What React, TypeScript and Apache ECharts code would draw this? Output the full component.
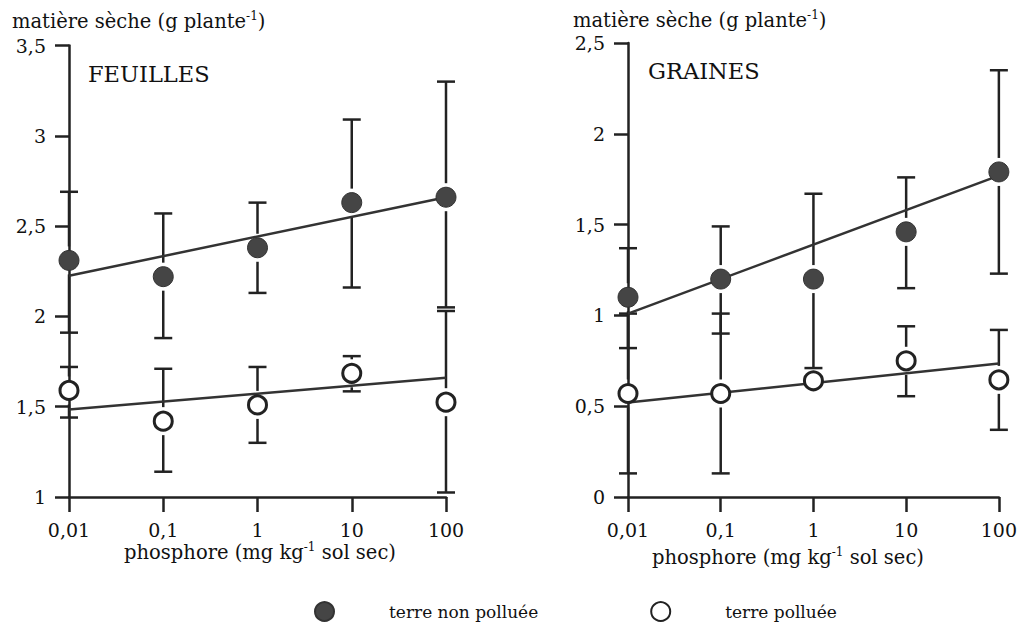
import React, { useEffect, useRef } from "react";
import * as echarts from "echarts";

const phosphore = [0.01, 0.1, 1, 10, 100];
const xTickLabels = ["0,01", "0,1", "1", "10", "100"];

// FEUILLES
const feuillesNP = [2.31, 2.22, 2.38, 2.63, 2.66];
const feuillesNPHigh = [2.69, 2.57, 2.63, 3.09, 3.3];
const feuillesNPLow = [1.91, 1.88, 2.13, 2.16, 2.05];
const feuillesP = [1.59, 1.42, 1.51, 1.685, 1.525];
const feuillesPHigh = [1.72, 1.71, 1.72, 1.78, 2.03];
const feuillesPLow = [1.44, 1.14, 1.3, 1.585, 1.025];
const feuillesNPFit = [2.225, 2.66];
const feuillesPFit = [1.485, 1.66];

// GRAINES
const grainesNP = [1.1, 1.2, 1.2, 1.46, 1.79];
const grainesNPHigh = [1.37, 1.49, 1.67, 1.76, 2.35];
const grainesNPLow = [0.82, 0.9, 0.71, 1.15, 1.23];
const grainesP = [0.57, 0.57, 0.64, 0.75, 0.645];
const grainesPHigh = [1.01, 1.01, null, 0.94, 0.92];
const grainesPLow = [0.13, 0.13, null, 0.555, 0.37];
const grainesNPFit = [1.01, 1.77];
const grainesPFit = [0.52, 0.735];

const FONT = "DejaVu Serif";
const INK = "#222";
const DARK = "#454545";

function fmtX(v: number) {
  const i = phosphore.findIndex((p) => Math.abs(Math.log10(p) - Math.log10(v)) < 1e-6);
  return i >= 0 ? xTickLabels[i] : "";
}
function fmtY(v: number) {
  return String(v).replace(".", ",");
}

function errData(center: number[], low: (number | null)[], high: (number | null)[]) {
  const out: any[] = [];
  center.forEach((c, i) => {
    if (low[i] == null || high[i] == null) return;
    out.push([phosphore[i], c, low[i], high[i]]);
  });
  return out;
}

const R = 10;
const GAP = 4;
const CAP = 9;

function renderErr(params: any, api: any) {
  const x = api.value(0);
  const c = api.coord([x, api.value(1)]);
  const lo = api.coord([x, api.value(2)]);
  const hi = api.coord([x, api.value(3)]);
  const style = { stroke: INK, lineWidth: 2.5 };
  const children: any[] = [];
  const topEnd = c[1] - R - GAP;
  const botStart = c[1] + R + GAP;
  if (hi[1] < topEnd) {
    children.push({ type: "line", shape: { x1: c[0], y1: hi[1], x2: c[0], y2: topEnd }, style });
  }
  if (lo[1] > botStart) {
    children.push({ type: "line", shape: { x1: c[0], y1: botStart, x2: c[0], y2: lo[1] }, style });
  }
  children.push({ type: "line", shape: { x1: c[0] - CAP, y1: hi[1], x2: c[0] + CAP, y2: hi[1] }, style });
  children.push({ type: "line", shape: { x1: c[0] - CAP, y1: lo[1], x2: c[0] + CAP, y2: lo[1] }, style });
  return { type: "group", children };
}

function panelSeries(
  idx: number,
  np: number[],
  npLo: (number | null)[],
  npHi: (number | null)[],
  p: number[],
  pLo: (number | null)[],
  pHi: (number | null)[],
  npFit: number[],
  pFit: number[]
) {
  const base = { xAxisIndex: idx, yAxisIndex: idx };
  return [
    { ...base, type: "custom", renderItem: renderErr, data: errData(np, npLo, npHi), z: 2, silent: true },
    { ...base, type: "custom", renderItem: renderErr, data: errData(p, pLo, pHi), z: 2, silent: true },
    {
      ...base,
      type: "line",
      data: [
        [phosphore[0], npFit[0]],
        [phosphore[phosphore.length - 1], npFit[1]],
      ],
      showSymbol: false,
      symbol: "none",
      lineStyle: { color: "#333", width: 2.5 },
      z: 3,
      silent: true,
    },
    {
      ...base,
      type: "line",
      data: [
        [phosphore[0], pFit[0]],
        [phosphore[phosphore.length - 1], pFit[1]],
      ],
      showSymbol: false,
      symbol: "none",
      lineStyle: { color: "#333", width: 2.5 },
      z: 3,
      silent: true,
    },
    {
      ...base,
      type: "scatter",
      name: "terre non polluée",
      data: phosphore.map((x, i) => [x, np[i]]),
      symbol: "circle",
      symbolSize: 20,
      itemStyle: { color: DARK, borderColor: "#333", borderWidth: 1, opacity: 1 },
      z: 5,
    },
    {
      ...base,
      type: "scatter",
      name: "terre polluée",
      data: phosphore.map((x, i) => [x, p[i]]),
      symbol: "circle",
      symbolSize: 18,
      itemStyle: { color: "#fff", borderColor: INK, borderWidth: 3, opacity: 1 },
      z: 5,
    },
  ];
}

function xAxis(idx: number) {
  return {
    type: "log",
    logBase: 10,
    gridIndex: idx,
    min: 0.01,
    max: 100,
    axisLine: { onZero: false, lineStyle: { color: INK, width: 2.5 } },
    axisTick: { show: true, inside: false, length: 15, lineStyle: { color: INK, width: 2.5 } },
    minorTick: { show: false },
    splitLine: { show: false },
    axisLabel: {
      formatter: fmtX,
      color: "#111",
      fontFamily: FONT,
      fontSize: 19,
      margin: 23,
      showMinLabel: true,
      showMaxLabel: true,
    },
  };
}

function yAxis(idx: number, min: number, max: number) {
  return {
    type: "value",
    gridIndex: idx,
    min,
    max,
    interval: 0.5,
    axisLine: { show: true, onZero: false, lineStyle: { color: INK, width: 2.5 } },
    axisTick: { show: true, inside: false, length: 14, lineStyle: { color: INK, width: 2.5 } },
    splitLine: { show: false },
    axisLabel: {
      formatter: fmtY,
      color: "#111",
      fontFamily: FONT,
      fontSize: 19,
      margin: 23,
    },
  };
}

function richText(x: number, y: number, main: string, sup: string, tail: string, align: string) {
  return {
    type: "text",
    x,
    y,
    style: {
      text: `{a|${main}}{s|${sup}}{a|${tail}}`,
      align,
      verticalAlign: "middle",
      rich: {
        a: { fontFamily: FONT, fontSize: 19.5, fill: "#111", lineHeight: 22 },
        s: { fontFamily: FONT, fontSize: 12, fill: "#111", verticalAlign: "top", lineHeight: 22, padding: [0, 0, 9, 0] },
      },
    },
  };
}

export default function App() {
  const ref = useRef<HTMLDivElement>(null);
  useEffect(() => {
    if (!ref.current) return;
    const chart = echarts.init(ref.current, undefined, { renderer: "svg" });
    const option: any = {
      animation: false,
      backgroundColor: "#fff",
      textStyle: { fontFamily: FONT },
      grid: [
        { left: 69, top: 45.5, width: 377, height: 451.5 },
        { left: 628, top: 43, width: 373, height: 454 },
      ],
      xAxis: [xAxis(0), xAxis(1)],
      yAxis: [yAxis(0, 1, 3.5), yAxis(1, 0, 2.5)],
      legend: {
        data: ["terre non polluée", "terre polluée"],
        left: 309,
        top: 596,
        icon: "circle",
        itemWidth: 19,
        itemHeight: 19,
        itemGap: 112,
        textStyle: { fontFamily: FONT, fontSize: 17, color: "#111", padding: [0, 0, 0, 50] },
        selectedMode: false,
      },
      graphic: [
        richText(12, 21, "matière sèche (g plante", "-1", ")", "left"),
        richText(573, 20, "matière sèche (g plante", "-1", ")", "left"),
        richText(260, 552, "phosphore (mg kg", "-1", " sol sec)", "center"),
        richText(788, 557, "phosphore (mg kg", "-1", " sol sec)", "center"),
        {
          type: "text",
          x: 88,
          y: 74,
          style: { text: "FEUILLES", fontFamily: FONT, fontSize: 22.5, fill: "#111", verticalAlign: "middle" },
        },
        {
          type: "text",
          x: 648,
          y: 71,
          style: { text: "GRAINES", fontFamily: FONT, fontSize: 22.5, fill: "#111", verticalAlign: "middle" },
        },
      ],
      series: [
        ...panelSeries(0, feuillesNP, feuillesNPLow, feuillesNPHigh, feuillesP, feuillesPLow, feuillesPHigh, feuillesNPFit, feuillesPFit),
        ...panelSeries(1, grainesNP, grainesNPLow, grainesNPHigh, grainesP, grainesPLow, grainesPHigh, grainesNPFit, grainesPFit),
      ],
    };
    chart.setOption(option);
    return () => chart.dispose();
  }, []);
  return (
    <div
      ref={ref}
      style={{ position: "fixed", left: 0, top: 0, width: 1020, height: 627, background: "#fff" }}
    />
  );
}
